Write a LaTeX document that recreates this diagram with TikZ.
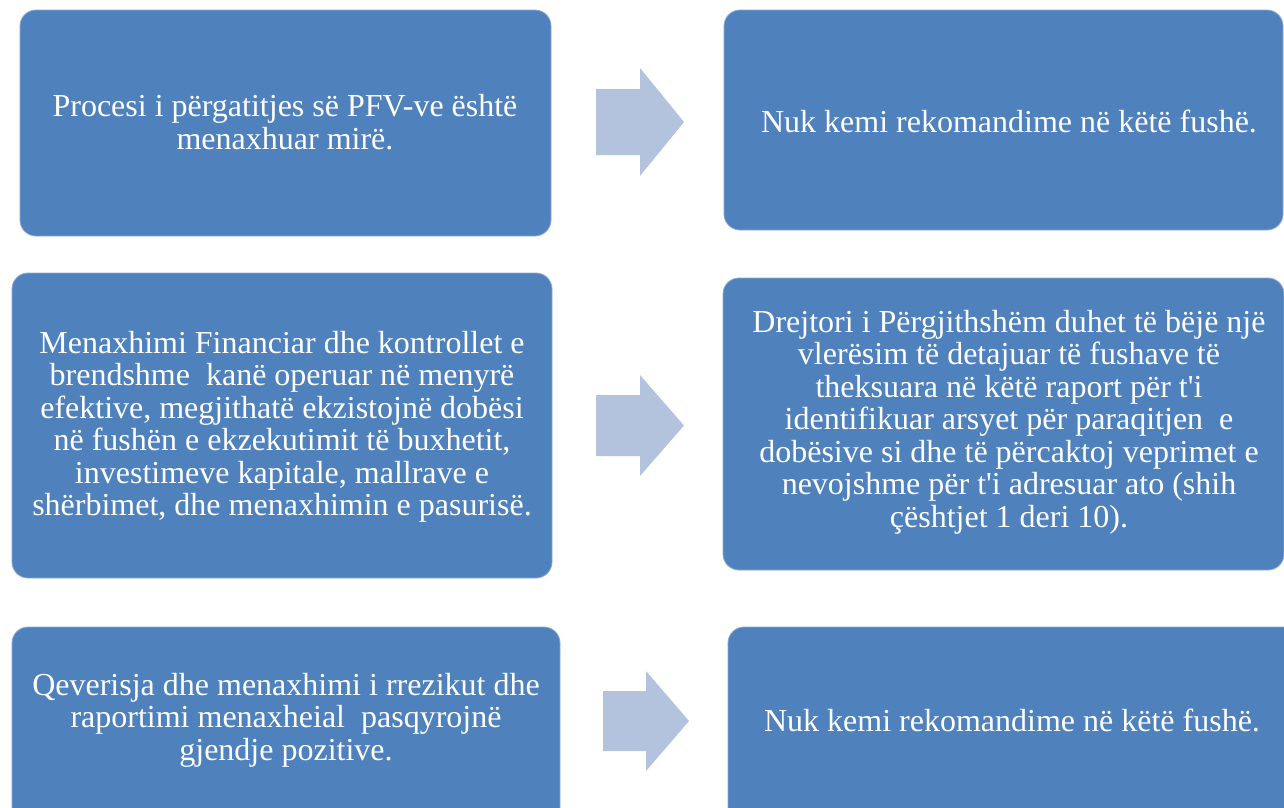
\documentclass[tikz,border=0pt]{standalone}
\usepackage{fontspec}
\setmainfont{Liberation Serif}
\definecolor{boxblue}{RGB}{79,129,189}
\definecolor{boxedge}{RGB}{140,170,210}
\definecolor{arrowblue}{RGB}{179,194,221}
\begin{document}
\begin{tikzpicture}[x=1pt,y=-1pt,
  box/.style={draw=boxedge, line width=0.8pt, fill=boxblue, rounded corners=16pt,
              inner sep=0pt, outer sep=0pt, anchor=north west},
  lbl/.style={text=white, align=center, font=\fontsize{32}{32.5}\selectfont, inner sep=0pt},
  blockarrow/.style={fill=arrowblue}]
\useasboundingbox (0,0) rectangle (1284,807);
\clip (0,0) rectangle (1284,807);
\fill[white] (0,0) rectangle (1284,807);
% boxes
\node[box, minimum width=531pt, minimum height=226pt] (b1) at (20,10) {};
\node[box, minimum width=559pt, minimum height=220pt] (b2) at (724,10) {};
\node[box, minimum width=540pt, minimum height=305pt] (b3) at (12,273) {};
\node[box, minimum width=561pt, minimum height=292pt] (b4) at (723,278) {};
\node[box, minimum width=548pt, minimum height=230pt] (b5) at (12,627) {};
\node[box, minimum width=600pt, minimum height=230pt] (b6) at (728,627) {};
% labels
\node[lbl] (t1) at (285,122) {Procesi i përgatitjes së PFV-ve është\\menaxhuar mirë.};
\node[lbl] (t2) at (1009,121) {Nuk kemi rekomandime në këtë fushë.};
\node[lbl] (t3) at (282,427) {Menaxhimi Financiar dhe kontrollet e\\brendshme \ kanë operuar në menyrë\\efektive, megjithatë ekzistojnë dobësi\\në fushën e ekzekutimit të buxhetit,\\investimeve kapitale, mallrave e\\shërbimet, dhe menaxhimin e pasurisë.};
\node[lbl] (t4) at (1009,422) {Drejtori i Përgjithshëm duhet të bëjë një\\vlerësim të detajuar të fushave të\\theksuara në këtë raport për t\textquotesingle i\\identifikuar arsyet për paraqitjen \ e\\dobësive si dhe të përcaktoj veprimet e\\nevojshme për t\textquotesingle i adresuar ato (shih\\çështjet 1 deri 10).};
\node[lbl] (t5) at (286,720) {Qeverisja dhe menaxhimi i rrezikut dhe\\raportimi menaxheial \ pasqyrojnë\\gjendje pozitive.};
\node[lbl] (t6) at (1012,720) {Nuk kemi rekomandime në këtë fushë.};
% block arrows
\fill[blockarrow] (596,89) -- (640,89) -- (640,68) -- (684,122) -- (640,176) -- (640,155) -- (596,155) -- cycle;
\fill[blockarrow] (596,395) -- (640,395) -- (640,375) -- (684,425.5) -- (640,476) -- (640,456) -- (596,456) -- cycle;
\fill[blockarrow] (603,691) -- (646,691) -- (646,671) -- (689,721) -- (646,771) -- (646,751) -- (603,751) -- cycle;
\end{tikzpicture}
\end{document}
